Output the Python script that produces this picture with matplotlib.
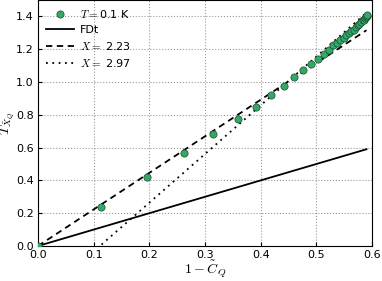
import matplotlib.pyplot as plt
import numpy as np

plt.rcParams['mathtext.fontset'] = 'cm'
plt.rcParams['font.size'] = 8

# measured points (T = 0.1 K)
cq = [0.0, 0.1126, 0.196, 0.262, 0.314, 0.359, 0.391, 0.4186, 0.441, 0.4605,
      0.4766, 0.490, 0.5024, 0.513, 0.523, 0.530, 0.537, 0.543, 0.549, 0.554,
      0.559, 0.563, 0.567, 0.571, 0.574, 0.577, 0.580, 0.583, 0.585, 0.587,
      0.589, 0.5905, 0.5915]
tq = [0.0, 0.239, 0.418, 0.566, 0.684, 0.777, 0.850, 0.919, 0.978, 1.029,
      1.073, 1.110, 1.140, 1.173, 1.197, 1.225, 1.240, 1.255, 1.270, 1.285,
      1.300, 1.310, 1.320, 1.335, 1.345, 1.355, 1.365, 1.375, 1.380, 1.390,
      1.395, 1.400, 1.406]

x_fdt = [0.0, 0.59]
x_lin = [0.0, 0.59]
X1 = 2.23
X2 = 2.97
off2 = 0.33

fig = plt.figure(figsize=(3.82, 2.81), dpi=100)
ax = fig.add_axes([0.0995, 0.1246, 0.8745, 0.8754])

ax.plot(cq, tq, 'o', color='#34a865', markeredgecolor='#184a30',
        markeredgewidth=0.5, markersize=5.2, label=r'$T=$0.1 K', zorder=3)
ax.plot(x_fdt, x_fdt, '-', color='k', lw=1.3, label='FDt')
ax.plot(x_lin, X1 * np.array(x_lin), linestyle=(0, (3.5, 2.5)), color='k',
        lw=1.3, label=r'$X=$ 2.23')
ax.plot(x_lin, X2 * np.array(x_lin) - off2, linestyle=(0, (1, 2.5)),
        color='k', lw=1.3, label=r'$X=$ 2.97')

ax.set_xlim(0, 0.6)
ax.set_ylim(0, 1.5)
ax.set_xticks([0.0, 0.1, 0.2, 0.3, 0.4, 0.5, 0.6])
ax.set_yticks([0.0, 0.2, 0.4, 0.6, 0.8, 1.0, 1.2, 1.4])
ax.tick_params(direction='in', length=3, pad=3, labelsize=8)
ax.grid(True, linestyle=':', color='#999999', lw=0.8)
ax.set_xlabel(r'$1-\tilde{C}_Q$', fontsize=10, labelpad=-1)
ax.set_ylabel(r'$T_{\tilde{X}_Q}$', fontsize=10, labelpad=0)
ax.legend(loc='upper left', frameon=False, fontsize=8, handlelength=2.5,
          borderaxespad=0.3, labelspacing=0.45, handletextpad=0.6)

fig.savefig('out.png', dpi=100)
